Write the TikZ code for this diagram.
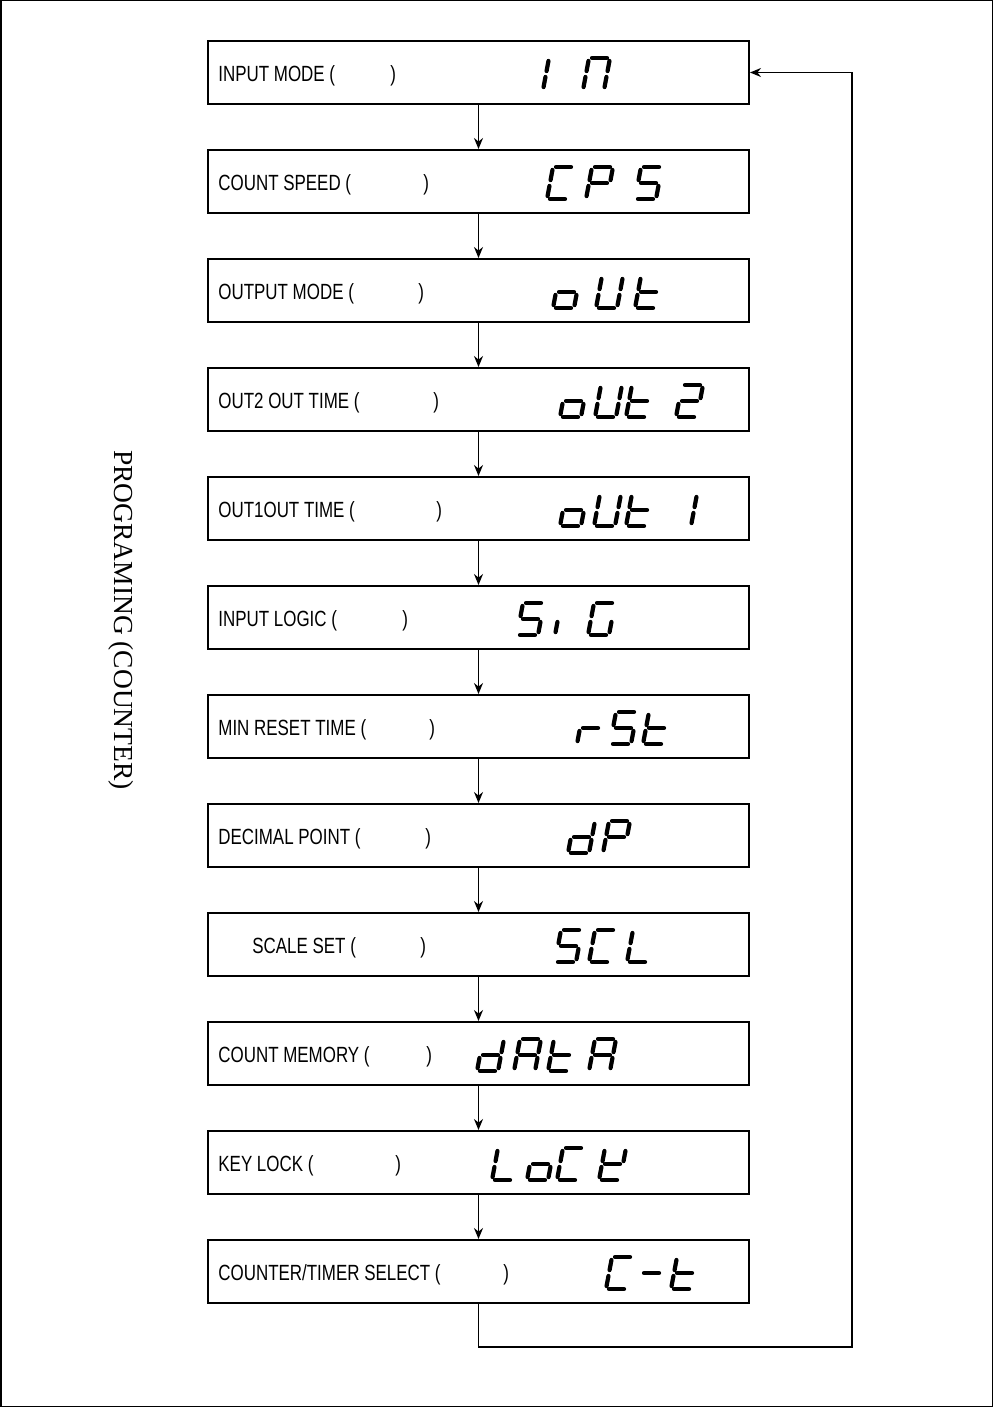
\documentclass[tikz,border=0pt]{standalone}
\usepackage{fontspec}
\setmainfont{Liberation Serif}
\newfontfamily\labelfont[FakeStretch=0.77]{Liberation Sans}
\usetikzlibrary{arrows.meta}

\tikzset{
  menubox/.style={draw,line width=1pt,minimum width=270.5pt,minimum height=31.5pt,inner sep=0pt},
  menulabel/.style={anchor=west,inner sep=0pt,font=\labelfont\fontsize{11}{13}\selectfont},
  lcdseg/.style={line width=2.1pt,line cap=round,shorten <=1.5pt,shorten >=1.5pt},
  flowarrow/.style={line width=0.75pt,-{Stealth[length=5.5pt,width=4.5pt]}}
}
\newcommand{\lcdchar}[3]{%
  \begin{scope}[shift={(#1,#2)},xslant=0.1875]
    \coordinate (la1) at (0,-32);  \coordinate (la2) at (21,-32);
    \coordinate (lb1) at (21,-32); \coordinate (lb2) at (21,-16);
    \coordinate (lc1) at (21,-16); \coordinate (lc2) at (21,0);
    \coordinate (ld1) at (0,0);    \coordinate (ld2) at (21,0);
    \coordinate (le1) at (0,0);    \coordinate (le2) at (0,-16);
    \coordinate (lf1) at (0,-16);  \coordinate (lf2) at (0,-32);
    \coordinate (lg1) at (0,-16);  \coordinate (lg2) at (21,-16);
    \foreach \sg in {#3} \draw[lcdseg] (l\sg1) -- (l\sg2);
  \end{scope}}

\begin{document}
\begin{tikzpicture}[x=0.5pt,y=-0.5pt]
\useasboundingbox (0,0) rectangle (993,1407);
\draw[line width=0.75pt] (0.75,0.75) rectangle (992.25,1406.25);
\node[rotate=-90,font=\fontsize{13.75}{16}\selectfont] (title) at (121,620) {PROGRAMING (COUNTER)};
\foreach \i/\lab/\sx/\cx in {1/INPUT MODE/218/390,2/COUNT SPEED/218/423,3/OUTPUT MODE/218/418,
  4/OUT2 OUT TIME/218/433,5/OUT1OUT TIME/218/436,6/INPUT LOGIC/218/402,7/MIN RESET TIME/218/429,
  8/DECIMAL POINT/218/425,9/SCALE SET/252/420,10/COUNT MEMORY/218/426,11/KEY LOCK/218/395,
  12/{COUNTER/TIMER SELECT}/218/503} {
  \pgfmathsetmacro\yc{72.5+109*(\i-1)}
  \pgfmathsetmacro\gap{(\cx-\sx)*0.5}
  \node[menubox] (m\i) at (478.5,\yc) {};
  \node[menulabel] (t\i) at (\sx,\yc+3) {\makebox[\gap pt][l]{\lab\ (})};
}
\foreach \i [evaluate=\i as \j using int(\i+1)] in {1,...,11}
  \draw[flowarrow] (m\i) -- (m\j);
\coordinate (loopbr) at (852,1347);
\draw[flowarrow] (m12.south) |- (loopbr) |- (m1.east);
\lcdchar{543}{90}{e,f} \lcdchar{583}{90}{a,b,c,e,f}
\lcdchar{547}{199}{a,d,e,f} \lcdchar{586}{199}{a,b,e,f,g} \lcdchar{635}{199}{a,c,d,f,g}
\lcdchar{553}{308}{c,d,e,g} \lcdchar{596}{308}{b,c,d,e,f} \lcdchar{635}{308}{d,e,f,g}
\lcdchar{560}{417}{c,d,e,g} \lcdchar{595}{417}{b,c,d,e,f} \lcdchar{626}{417}{d,e,f,g} \lcdchar{676}{417}{a,b,d,e,g}
\lcdchar{560}{526}{c,d,e,g} \lcdchar{594}{526}{b,c,d,e,f} \lcdchar{626}{526}{d,e,f,g} \lcdchar{670}{526}{b,c}
\lcdchar{517}{635}{a,c,d,f,g} \lcdchar{555}{635}{e} \lcdchar{588}{635}{a,c,d,e,f}
\lcdchar{577}{744}{e,g} \lcdchar{610}{744}{a,c,d,f,g} \lcdchar{643}{744}{d,e,f,g}
\lcdchar{568}{853}{b,c,d,e,g} \lcdchar{603}{853}{a,b,e,f,g}
\lcdchar{555}{962}{a,c,d,f,g} \lcdchar{589}{962}{a,d,e,f} \lcdchar{627}{962}{d,e,f}
\lcdchar{477}{1071}{b,c,d,e,g} \lcdchar{514}{1071}{a,b,c,e,f,g} \lcdchar{548}{1071}{d,e,f,g} \lcdchar{589}{1071}{a,b,c,e,f,g}
\lcdchar{492}{1180}{d,e,f} \lcdchar{527}{1180}{c,d,e,g} \lcdchar{557}{1180}{a,d,e,f} \lcdchar{599}{1180}{b,d,e,f,g}
\lcdchar{606}{1289}{a,d,e,f} \lcdchar{638}{1289}{g} \lcdchar{671}{1289}{d,e,f,g}
\end{tikzpicture}
\end{document}
